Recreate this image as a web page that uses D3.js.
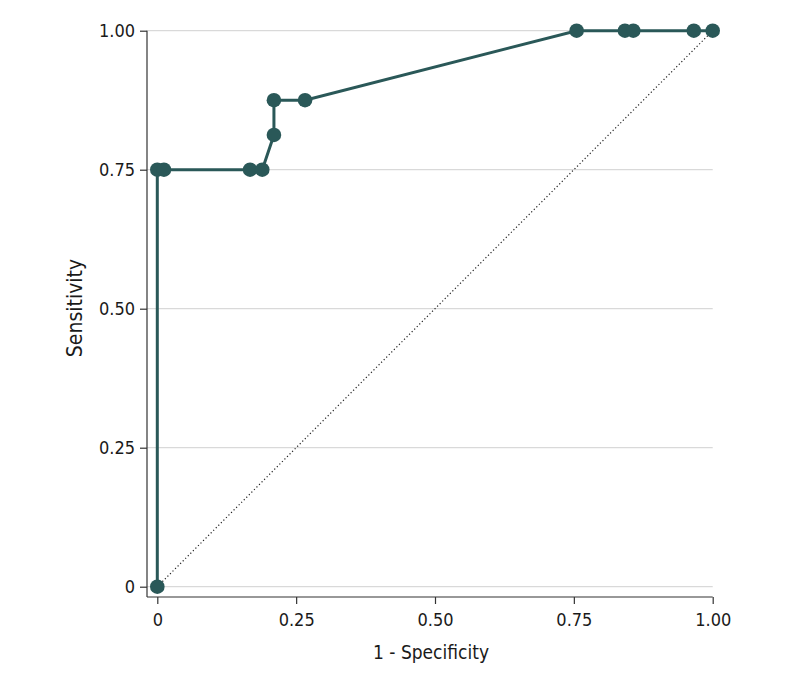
<!DOCTYPE html>
<html>
<head>
<meta charset="utf-8">
<script src="https://cdn.jsdelivr.net/npm/d3@7"></script>
<style>
  html, body { margin: 0; padding: 0; background: #fff; }
  svg text { font-family: 'Liberation Sans Narrow', 'DejaVu Sans Condensed', 'Noto Sans', sans-serif; fill: #1a1a1a; }
</style>
</head>
<body>
<svg id="chart" width="794" height="682"></svg>
<script>
// ROC curve data (1 - specificity, sensitivity)
const fpr = [0, 0, 0.012, 0.167, 0.189, 0.21, 0.21, 0.266, 0.755, 0.842, 0.857, 0.966, 1.0];
const tpr = [0, 0.75, 0.75, 0.75, 0.75, 0.8125, 0.875, 0.875, 1.0, 1.0, 1.0, 1.0, 1.0];
const xTicks = [0, 0.25, 0.5, 0.75, 1.0];
const yTicks = [0, 0.25, 0.5, 0.75, 1.0];
const xTickLabels = ["0", "0.25", "0.50", "0.75", "1.00"];
const yTickLabels = ["0", "0.25", "0.50", "0.75", "1.00"];
const xTitle = "1 - Specificity";
const yTitle = "Sensitivity";

const svg = d3.select("#chart");
const x = d3.scaleLinear().domain([0, 1]).range([157.3, 712.7]);
const y = d3.scaleLinear().domain([0, 1]).range([586.7, 30.7]);
const axisLeftX = 147, axisBottomY = 597;
const color = "#2a5858";

// gridlines
svg.append("g").selectAll("line").data(yTicks).join("line")
  .attr("x1", axisLeftX).attr("x2", x(1))
  .attr("y1", d => y(d)).attr("y2", d => y(d))
  .attr("stroke", "#d9d9d9").attr("stroke-width", 1.2);

// y axis
const yAxis = d3.axisLeft(y).tickValues(yTicks)
  .tickFormat((d, i) => yTickLabels[i]).tickSize(7).tickPadding(5);
const gy = svg.append("g").attr("transform", `translate(${axisLeftX},0)`).call(yAxis);
gy.select(".domain").attr("d", `M-0,${y(1)}V${axisBottomY}`).attr("stroke", "#333").attr("stroke-width", 1.2);
gy.selectAll(".tick line").attr("stroke", "#333").attr("stroke-width", 1.2);
gy.selectAll(".tick text").style("font-size", "18px").attr("fill", "#1a1a1a");

// x axis
const xAxis = d3.axisBottom(x).tickValues(xTicks)
  .tickFormat((d, i) => xTickLabels[i]).tickSize(7).tickPadding(9);
const gx = svg.append("g").attr("transform", `translate(0,${axisBottomY})`).call(xAxis);
gx.select(".domain").attr("d", `M${axisLeftX},0H${x(1)}`).attr("stroke", "#333").attr("stroke-width", 1.2);
gx.selectAll(".tick line").attr("stroke", "#333").attr("stroke-width", 1.2);
gx.selectAll(".tick text").style("font-size", "18px").attr("fill", "#1a1a1a");

// diagonal reference
svg.append("line")
  .attr("x1", x(0)).attr("y1", y(0)).attr("x2", x(1)).attr("y2", y(1))
  .attr("stroke", "#222").attr("stroke-width", 1.2).attr("stroke-dasharray", "1.2,2.4");

// ROC line
const pts = fpr.map((v, i) => [v, tpr[i]]);
svg.append("path").datum(pts)
  .attr("d", d3.line().x(d => x(d[0])).y(d => y(d[1])))
  .attr("fill", "none").attr("stroke", color).attr("stroke-width", 3);

svg.append("g").selectAll("circle").data(pts).join("circle")
  .attr("cx", d => x(d[0])).attr("cy", d => y(d[1])).attr("r", 7.3)
  .attr("fill", color);

// axis titles
svg.append("text").attr("x", 431).attr("y", 659).attr("text-anchor", "middle")
  .style("font-size", "19px").text(xTitle);
svg.append("text").attr("transform", "translate(82,308) rotate(-90)").attr("text-anchor", "middle")
  .style("font-size", "21px").text(yTitle);
</script>
</body>
</html>
